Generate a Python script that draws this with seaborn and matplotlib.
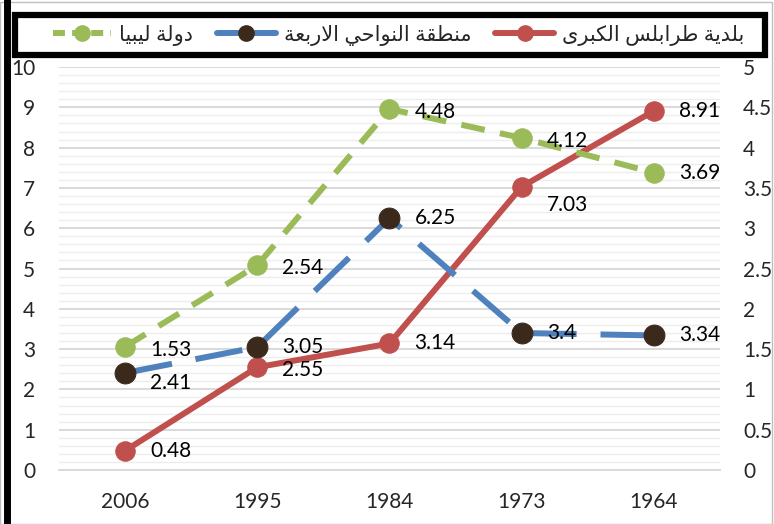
import numpy as np
import pandas as pd
import seaborn as sns
import matplotlib.pyplot as plt
from matplotlib.lines import Line2D
from matplotlib.ticker import MultipleLocator, FixedLocator

# data
years = ["2006", "1995", "1984", "1973", "1964"]
tripoli = [0.48, 2.55, 3.14, 7.03, 8.91]   # left axis
suburbs = [2.41, 3.05, 6.25, 3.4, 3.34]    # left axis
libya = [1.53, 2.54, 4.48, 4.12, 3.69]     # right axis
names = ["بلدية طرابلس الكبرى", "منطقة النواحي الاربعة", "دولة ليبيا"]

# small arabic shaper (matplotlib does no shaping / bidi)
FORMS = {
    'ا': ('\uFE8D', '\uFE8E', None, None),
    'ب': ('\uFE8F', '\uFE90', '\uFE91', '\uFE92'),
    'ة': ('\uFE93', '\uFE94', None, None),
    'ت': ('\uFE95', '\uFE96', '\uFE97', '\uFE98'),
    'ح': ('\uFEA1', '\uFEA2', '\uFEA3', '\uFEA4'),
    'د': ('\uFEA9', '\uFEAA', None, None),
    'ر': ('\uFEAD', '\uFEAE', None, None),
    'س': ('\uFEB1', '\uFEB2', '\uFEB3', '\uFEB4'),
    'ط': ('\uFEC1', '\uFEC2', '\uFEC3', '\uFEC4'),
    'ع': ('\uFEC9', '\uFECA', '\uFECB', '\uFECC'),
    'ق': ('\uFED5', '\uFED6', '\uFED7', '\uFED8'),
    'ك': ('\uFED9', '\uFEDA', '\uFEDB', '\uFEDC'),
    'ل': ('\uFEDD', '\uFEDE', '\uFEDF', '\uFEE0'),
    'م': ('\uFEE1', '\uFEE2', '\uFEE3', '\uFEE4'),
    'ن': ('\uFEE5', '\uFEE6', '\uFEE7', '\uFEE8'),
    'و': ('\uFEED', '\uFEEE', None, None),
    'ى': ('\uFEEF', '\uFEF0', None, None),
    'ي': ('\uFEF1', '\uFEF2', '\uFEF3', '\uFEF4'),
    'لا': ('\uFEFB', '\uFEFC', None, None),
}


def shape_word(word):
    toks = []
    i = 0
    while i < len(word):
        if word[i] == 'ل' and i + 1 < len(word) and word[i + 1] == 'ا':
            toks.append('لا')
            i += 2
        else:
            toks.append(word[i])
            i += 1
    out = []
    for k, t in enumerate(toks):
        iso, fin, ini, med = FORMS[t]
        jp = k > 0 and FORMS[toks[k - 1]][2] is not None
        jn = ini is not None and k + 1 < len(toks)
        if jp and jn:
            out.append(med)
        elif jp:
            out.append(fin)
        elif jn:
            out.append(ini)
        else:
            out.append(iso)
    return ''.join(out)


def shape(text):
    return ' '.join(shape_word(w) for w in text.split(' '))[::-1]


sns.set_style("white")
plt.rcParams['font.family'] = ['Lato', 'DejaVu Sans']

red, blue, green, brown = '#C0504D', '#4F81BD', '#9BBB59', '#3B2A1C'
pos = np.arange(len(years))
df = pd.DataFrame({"pos": pos, "tripoli": tripoli, "suburbs": suburbs, "libya": libya})

fig = plt.figure(figsize=(7.74, 5.24), dpi=100)
ax = fig.add_axes([0.0762, 0.103, 0.854, 0.769])
ax2 = ax.twinx()

sns.lineplot(data=df, x="pos", y="tripoli", ax=ax, color=red, lw=4.3, marker='o',
             markersize=14, mec=red, mfc=red, sort=False, zorder=3)
sns.lineplot(data=df, x="pos", y="suburbs", ax=ax, color=blue, lw=4.3, marker='o',
             markersize=15, mec=brown, mfc=brown, sort=False, zorder=3,
             linestyle=(0, (8, 4)))
sns.lineplot(data=df, x="pos", y="libya", ax=ax2, color=green, lw=4.3, marker='o',
             markersize=14, mec=green, mfc=green, sort=False, zorder=3,
             linestyle=(0, (4, 2.6)))

lab_kw = dict(textcoords='offset points', va='center', ha='left', fontsize=15, color='black')
dy_t = [0, -2, 0, -13, 0]
dy_s = [-7, 0, 0, 0, 0]
dy_l = [-2, -2, -2, -2, 0]
for i in range(len(years)):
    ax.annotate(f"{tripoli[i]:g}", (pos[i], tripoli[i]), xytext=(18, dy_t[i]), **lab_kw)
    ax.annotate(f"{suburbs[i]:g}", (pos[i], suburbs[i]), xytext=(18, dy_s[i]), **lab_kw)
    ax2.annotate(f"{libya[i]:g}", (pos[i], libya[i]), xytext=(18, dy_l[i]), **lab_kw)

ax.set_xlim(-0.5, 4.5)
ax.set_ylim(0, 10)
ax2.set_ylim(0, 5)
ax.yaxis.set_major_locator(MultipleLocator(1))
ax.yaxis.set_minor_locator(MultipleLocator(0.2))
ax2.yaxis.set_major_locator(MultipleLocator(0.5))
ax2.yaxis.set_major_formatter(plt.FuncFormatter(lambda v, p: f"{v:g}"))
ax.set_xticks(pos)
ax.set_xticklabels(years)
ax.xaxis.set_minor_locator(FixedLocator(np.arange(-0.5, 5, 1)))

ax.grid(which='major', axis='y', color='#D9D9D9', lw=1.4)
ax.grid(which='minor', axis='y', color='#EDEDED', lw=1.0)
ax.grid(False, axis='x')
ax2.grid(False)
ax.set_axisbelow(True)
ax.set_xlabel("")
ax.set_ylabel("")
ax2.set_ylabel("")

ax.tick_params(axis='y', which='both', length=0, labelsize=15, pad=17)
ax2.tick_params(axis='y', length=0, labelsize=15, pad=16.5)
ax.tick_params(axis='x', which='major', length=0, labelsize=15, pad=16)
ax.tick_params(axis='x', which='minor', length=7, width=1.3, color='#D9D9D9', direction='out')
for a in (ax, ax2):
    for s in ('top', 'left', 'right', 'bottom'):
        a.spines[s].set_visible(False)
ax.spines['bottom'].set_visible(True)
ax.spines['bottom'].set_color('#D9D9D9')
ax.spines['bottom'].set_linewidth(1.4)

# legend (frame drawn separately so it can match the reference box)
handles = [
    Line2D([], [], color=green, lw=4.3, marker='o', markersize=11, linestyle=(0, (2, 1.2))),
    Line2D([], [], color=blue, lw=4.3, marker='o', markersize=11, mfc=brown, mec=brown),
    Line2D([], [], color=red, lw=4.3, marker='o', markersize=11),
]
labels = [shape(names[2]), shape(names[1]), shape(names[0])]
leg = fig.legend(handles, labels, loc='center', bbox_to_anchor=(0.515, 0.933), ncol=3,
                 fontsize=15, frameon=False, handlelength=2.8,
                 columnspacing=1.15, handletextpad=0.4, borderpad=0.2)
fig.add_artist(plt.Rectangle((15 / 774, 1 - 55 / 524), 750 / 774, 40 / 524,
                             transform=fig.transFigure, fill=False,
                             edgecolor='black', lw=4.5))

# figure frame
fig.add_artist(Line2D([0.009, 0.009], [0, 1], transform=fig.transFigure, color='black', lw=5))
fig.add_artist(plt.Rectangle((0, 0), 0.998, 0.997, transform=fig.transFigure, fill=False,
                             edgecolor='#BFBFBF', lw=1))

fig.savefig("out.png", dpi=100)
